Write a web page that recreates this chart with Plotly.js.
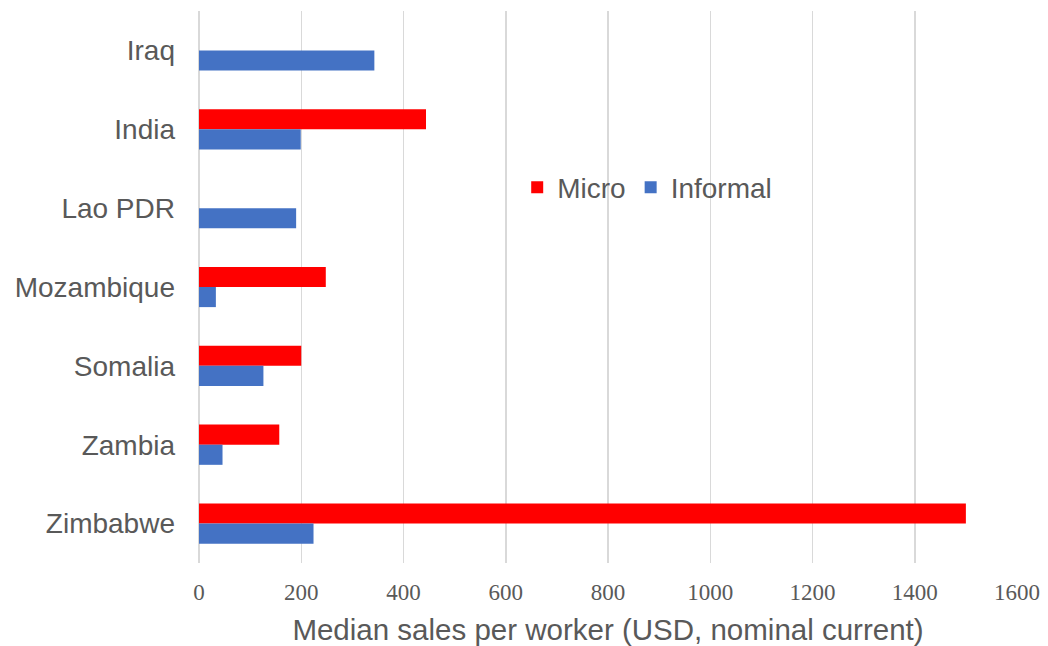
<!DOCTYPE html>
<html>
<head>
<meta charset="utf-8">
<script src="https://cdn.plot.ly/plotly-3.0.1.min.js"></script>
<style>html,body{margin:0;padding:0;background:#fff;}#chart{width:1048px;height:646px;}</style>
</head>
<body>
<div id="chart"></div>
<script>
var countries = ["Iraq", "India", "Lao PDR", "Mozambique", "Somalia", "Zambia", "Zimbabwe"];
var microValues = [null, 444, null, 248, 200, 157, 1500];
var informalValues = [343, 199, 190, 33, 126, 46, 224];
var xTicks = [0, 200, 400, 600, 800, 1000, 1200, 1400, 1600];

var traces = [
  {type: "bar", orientation: "h", name: "Micro", y: countries, x: microValues,
   marker: {color: "#FF0000"}, hoverinfo: "x+y"},
  {type: "bar", orientation: "h", name: "Informal", y: countries, x: informalValues,
   marker: {color: "#4472C4"}, hoverinfo: "x+y"}
];

var layout = {
  width: 1048, height: 646,
  margin: {l: 199, r: 31, t: 10.5, b: 82.5},
  paper_bgcolor: "#fff", plot_bgcolor: "#fff",
  barmode: "group", bargap: 0.49, bargroupgap: 0,
  showlegend: true,
  legend: {orientation: "h", x: 0.389, y: 0.68, xanchor: "left", yanchor: "middle",
           font: {family: "Liberation Sans, Arial, sans-serif", size: 28, color: "#595959"},
           bgcolor: "rgba(0,0,0,0)", itemwidth: 30, tracegroupgap: 0},
  xaxis: {
    range: [0, 1600], tickvals: xTicks, ticktext: xTicks.map(String),
    showgrid: true, gridcolor: "#d9d9d9", gridwidth: 1.5,
    zeroline: true, zerolinecolor: "#d9d9d9", zerolinewidth: 1.5,
    showline: false, ticks: "", ticklabelstandoff: 13,
    tickfont: {family: "Liberation Serif, Times New Roman, serif", size: 23, color: "#595959"},
    title: {text: "Median sales per worker (USD, nominal current)", standoff: 15,
            font: {family: "Liberation Sans, Arial, sans-serif", size: 29.5, color: "#595959"}},
    fixedrange: true
  },
  yaxis: {
    type: "category", categoryorder: "array", categoryarray: countries,
    autorange: "reversed", showgrid: false, zeroline: false, showline: false,
    ticks: "", ticklabelstandoff: 23,
    tickfont: {family: "Liberation Sans, Arial, sans-serif", size: 28, color: "#595959"},
    fixedrange: true
  }
};

Plotly.newPlot("chart", traces, layout, {displayModeBar: false, staticPlot: true});
</script>
</body>
</html>
